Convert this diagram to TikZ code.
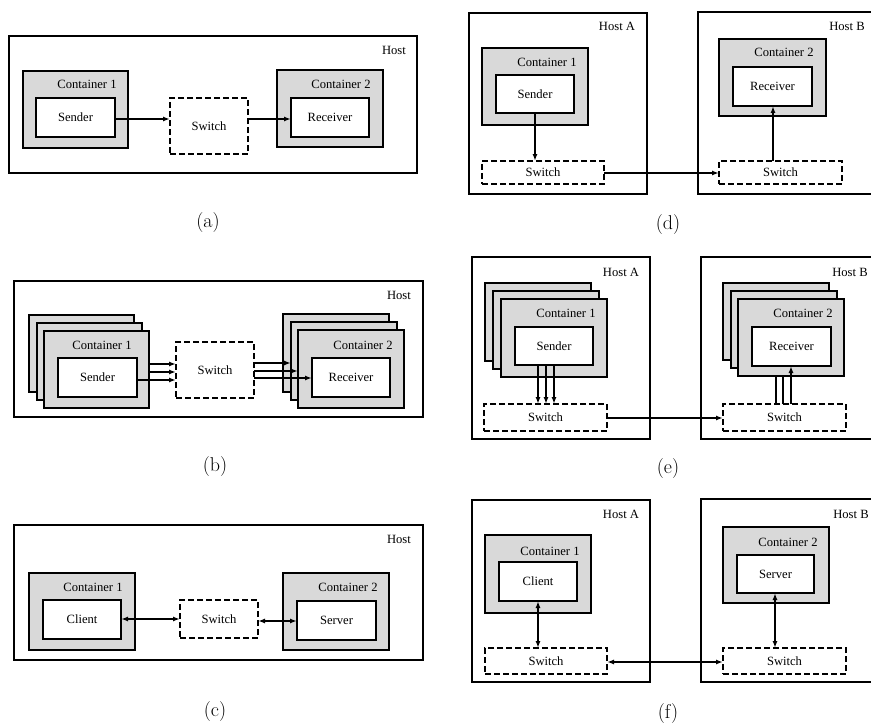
\documentclass[tikz,border=0pt]{standalone}
\usepackage{fontspec}
\newfontfamily\tnr{Liberation Serif}
\usetikzlibrary{arrows.meta}
\definecolor{cgray}{RGB}{217,217,217}
\newcommand\lblfont{\tnr\fontsize{12.6}{14}\selectfont}
\newcommand\mkbox[7]{\node[#1,minimum width={(#4)-(#2)},minimum height={(#5)-(#3)}] (#6) at ({((#2)+(#4))/2},{((#3)+(#5))/2}) {#7};}
\begin{document}
\begin{tikzpicture}[x=1pt,y=-1pt,
  every node/.style={inner sep=0pt,outer sep=0pt},
  hostbox/.style={draw,line width=1.8pt},
  contbox/.style={draw,fill=cgray,line width=2pt},
  appbox/.style={draw,fill=white,line width=2.1pt,font=\lblfont},
  swbox/.style={draw,fill=white,line width=1.7pt,dash pattern=on 6pt off 3pt,font=\lblfont},
  lbl/.style={font=\lblfont},
  captxt/.style={font=\fontsize{20}{24}\selectfont},
  arr/.style={-{Latex[length=7pt,width=5pt]},line width=1.5pt},
  barr/.style={{Latex[length=7pt,width=5pt]}-{Latex[length=7pt,width=5pt]},line width=1.5pt}]
\useasboundingbox (0,0) rectangle (871,725);
% ---------------- (a)
\mkbox{hostbox}{9}{36}{417}{173}{a-host}{}
\node[lbl] (a-hl) at (394,50) {Host};
\mkbox{contbox}{23}{71}{128}{148}{a-c1}{}
\node[lbl] (a-c1l) at (87,84) {Container 1};
\mkbox{appbox}{36}{98}{115}{137}{a-snd}{Sender}
\mkbox{swbox}{170}{98}{248}{154}{a-sw}{Switch}
\mkbox{contbox}{277}{70}{383}{147}{a-c2}{}
\node[lbl] (a-c2l) at (341,84) {Container 2};
\mkbox{appbox}{291}{98}{369}{137}{a-rcv}{Receiver}
\draw[arr] (a-snd.east |- 0,119) -- (a-sw.west |- 0,119);
\draw[arr] (a-sw.east |- 0,119) -- (a-rcv.west |- 0,119);
\node[captxt] (a-cap) at (208,223) {(a)};
% ---------------- (b)
\mkbox{hostbox}{14}{281}{423}{417}{b-host}{}
\node[lbl] (b-hl) at (399,295) {Host};
\mkbox{contbox}{29}{315}{134}{392}{b-c1a}{}
\mkbox{contbox}{37}{323}{142}{400}{b-c1b}{}
\mkbox{contbox}{44}{331}{149}{408}{b-c1c}{}
\node[lbl] (b-c1l) at (102,345) {Container 1};
\mkbox{appbox}{58}{358}{137}{397}{b-snd}{Sender}
\mkbox{swbox}{176}{342}{254}{398}{b-sw}{Switch}
\mkbox{contbox}{283}{314}{389}{392}{b-c2a}{}
\mkbox{contbox}{291}{322}{397}{400}{b-c2b}{}
\mkbox{contbox}{298}{330}{404}{408}{b-c2c}{}
\node[lbl] (b-c2l) at (363,345) {Container 2};
\mkbox{appbox}{312}{358}{390}{397}{b-rcv}{Receiver}
\draw[arr] (b-c1c.east |- 0,364) -- (b-sw.west |- 0,364);
\draw[arr] (b-c1c.east |- 0,372) -- (b-sw.west |- 0,372);
\draw[arr] (b-snd.east |- 0,380) -- (b-sw.west |- 0,380);
\draw[arr] (b-sw.east |- 0,363) -- (b-c2b.west |- 0,363);
\draw[arr] (b-sw.east |- 0,371) -- (b-c2c.west |- 0,371);
\draw[arr] (b-sw.east |- 0,378) -- (b-rcv.west |- 0,378);
\node[captxt] (b-cap) at (215,467) {(b)};
% ---------------- (c)
\mkbox{hostbox}{14}{525}{423}{660}{c-host}{}
\node[lbl] (c-hl) at (399,539) {Host};
\mkbox{contbox}{29}{573}{135}{650}{c-c1}{}
\node[lbl] (c-c1l) at (93,587) {Container 1};
\mkbox{appbox}{43}{600}{121}{639}{c-cli}{Client}
\mkbox{swbox}{180}{600}{258}{638}{c-sw}{Switch}
\mkbox{contbox}{283}{573}{389}{650}{c-c2}{}
\node[lbl] (c-c2l) at (348,587) {Container 2};
\mkbox{appbox}{297}{601}{376}{640}{c-srv}{Server}
\draw[barr] (c-cli.east |- 0,619) -- (c-sw.west |- 0,619);
\draw[barr] (c-sw.east |- 0,621) -- (c-srv.west |- 0,621);
\node[captxt] (c-cap) at (215,712) {(c)};
% ---------------- (d)
\mkbox{hostbox}{469}{13}{647}{194}{d-ha}{}
\node[lbl] (d-hal) at (617,26) {Host A};
\mkbox{hostbox}{698}{12}{876}{194}{d-hb}{}
\node[lbl] (d-hbl) at (847,26) {Host B};
\mkbox{contbox}{482}{48}{588}{125}{d-c1}{}
\node[lbl] (d-c1l) at (547,62) {Container 1};
\mkbox{appbox}{496}{75}{574}{113}{d-snd}{Sender}
\mkbox{swbox}{482}{161}{604}{184}{d-swa}{Switch}
\mkbox{contbox}{719}{39}{826}{116}{d-c2}{}
\node[lbl] (d-c2l) at (784,52) {Container 2};
\mkbox{appbox}{733}{67}{812}{106}{d-rcv}{Receiver}
\mkbox{swbox}{719}{161}{842}{184}{d-swb}{Switch}
\draw[arr] (d-snd.south -| 535,0) -- (d-swa.north -| 535,0);
\draw[arr] (d-swa.east |- 0,173) -- (d-swb.west |- 0,173);
\draw[arr] (d-swb.north -| 773,0) -- (d-rcv.south -| 773,0);
\node[captxt] (d-cap) at (668,225) {(d)};
% ---------------- (e)
\mkbox{hostbox}{472}{257}{650}{439}{e-ha}{}
\node[lbl] (e-hal) at (621,272) {Host A};
\mkbox{hostbox}{701}{257}{876}{439}{e-hb}{}
\node[lbl] (e-hbl) at (850,272) {Host B};
\mkbox{contbox}{485}{283}{591}{361}{e-c1a}{}
\mkbox{contbox}{493}{291}{599}{369}{e-c1b}{}
\mkbox{contbox}{501}{299}{607}{377}{e-c1c}{}
\node[lbl] (e-c1l) at (566,313) {Container 1};
\mkbox{appbox}{515}{327}{593}{365}{e-snd}{Sender}
\mkbox{swbox}{484}{404}{607}{431}{e-swa}{Switch}
\mkbox{swbox}{723}{404}{846}{431}{e-swb}{Switch}
\mkbox{contbox}{723}{283}{829}{360}{e-c2a}{}
\mkbox{contbox}{731}{291}{837}{368}{e-c2b}{}
\draw[arr] (e-swb.north -| 776,0) -- (e-c2a.south -| 776,0);
\draw[arr] (e-swb.north -| 783,0) -- (e-c2b.south -| 783,0);
\mkbox{contbox}{738}{299}{844}{376}{e-c2c}{}
\node[lbl] (e-c2l) at (803,313) {Container 2};
\mkbox{appbox}{752}{327}{831}{366}{e-rcv}{Receiver}
\draw[arr] (e-snd.south -| 538,0) -- (e-swa.north -| 538,0);
\draw[arr] (e-snd.south -| 546,0) -- (e-swa.north -| 546,0);
\draw[arr] (e-snd.south -| 554,0) -- (e-swa.north -| 554,0);
\draw[arr] (e-swb.north -| 791,0) -- (e-rcv.south -| 791,0);
\draw[arr] (e-swa.east |- 0,418) -- (e-swb.west |- 0,418);
\node[captxt] (e-cap) at (668,469) {(e)};
% ---------------- (f)
\mkbox{hostbox}{472}{500}{650}{682}{f-ha}{}
\node[lbl] (f-hal) at (621,514) {Host A};
\mkbox{hostbox}{701}{499}{876}{682}{f-hb}{}
\node[lbl] (f-hbl) at (851,514) {Host B};
\mkbox{contbox}{485}{535}{591}{613}{f-c1}{}
\node[lbl] (f-c1l) at (550,551) {Container 1};
\mkbox{appbox}{499}{562}{577}{601}{f-cli}{Client}
\mkbox{swbox}{485}{648}{607}{674}{f-swa}{Switch}
\mkbox{contbox}{723}{527}{829}{603}{f-c2}{}
\node[lbl] (f-c2l) at (788,542) {Container 2};
\mkbox{appbox}{737}{555}{814}{593}{f-srv}{Server}
\mkbox{swbox}{723}{648}{846}{674}{f-swb}{Switch}
\draw[barr] (f-cli.south -| 538,0) -- (f-swa.north -| 538,0);
\draw[barr] (f-swa.east |- 0,662) -- (f-swb.west |- 0,662);
\draw[barr] (f-srv.south -| 775,0) -- (f-swb.north -| 775,0);
\node[captxt] (f-cap) at (668,714) {(f)};
\end{tikzpicture}
\end{document}
